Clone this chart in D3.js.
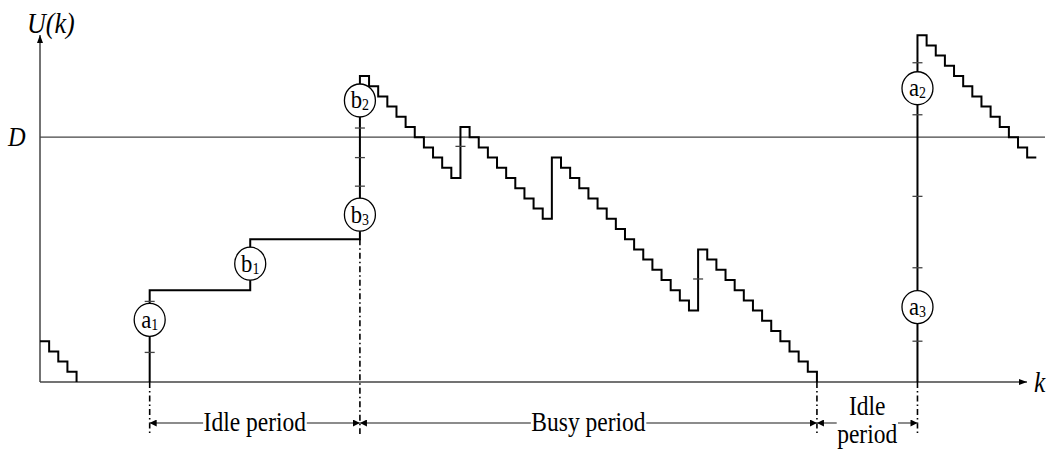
<!DOCTYPE html>
<html>
<head>
<meta charset="utf-8">
<script src="https://cdn.jsdelivr.net/npm/d3@7"></script>
<style>
body { margin: 0; background: #fff; }
</style>
</head>
<body>
<div id="chart"></div>
<script>
// U(k) on each slot [k, k+1), k = 0..108
var u_values = [
    4, 3, 2, 1,
    0, 0, 0, 0, 0, 0, 0, 0,
    9, 9, 9, 9, 9, 9, 9, 9, 9, 9, 9,
    14, 14, 14, 14, 14, 14, 14, 14, 14, 14, 14, 14,
    30, 29, 28, 27, 26, 25, 24, 23, 22, 21, 20,
    25, 24, 23, 22, 21, 20, 19, 18, 17, 16,
    22, 21, 20, 19, 18, 17, 16, 15, 14, 13, 12, 11, 10, 9, 8, 7,
    13, 12, 11, 10, 9, 8, 7, 6, 5, 4, 3, 2, 1,
    0, 0, 0, 0, 0, 0, 0, 0, 0, 0, 0,
    34, 33, 32, 31, 30, 29, 28, 27, 26, 25, 24, 23, 22
];

var d_value = 24;

// circled arrival labels
var circle_letters = ['a', 'b', 'b', 'b', 'a', 'a'];
var circle_subs = ['1', '1', '2', '3', '2', '3'];
var circle_k = [12, 23, 35, 35, 96, 96];
var circle_u = [6.1, 11.6, 27.6, 16.4, 28.8, 7.35];

// small tick marks on the jumps
var tick_k = [12, 12, 35, 35, 35, 46, 72, 96, 96, 96, 96, 96];
var tick_u = [2.9, 7.9, 24.9, 22, 19.2, 23.1, 10.1, 31.3, 26.2, 18.2, 11.2, 4];

// dash-dot guides
var guide_k = [12, 35, 85, 96];
var guide_top = [0, 14, 0, 0];

// periods
var period_labels = ['Idle period', 'Busy period', 'Idle\nperiod'];
var period_start = [12, 35, 85];
var period_end = [35, 85, 96];

var chart_width = 1053;
var chart_height = 451;
var serif = "'Liberation Serif', 'Times New Roman', Times, serif";

var svg = d3.select('#chart')
    .append('svg')
    .attr('width', chart_width)
    .attr('height', chart_height)
    .attr('font-family', serif)

var x_scale = d3.scaleLinear()
    .domain([0, 109])
    .range([40, 1036.3])

var y_scale = d3.scaleLinear()
    .domain([0, 34])
    .range([382, 35.2])

var sx = 0.87; // text is a bit narrow in the original

var defs = svg.append('defs');
defs.append('marker')
    .attr('id', 'head')
    .attr('viewBox', '0 0 8 6')
    .attr('refX', 8)
    .attr('refY', 3)
    .attr('markerWidth', 8)
    .attr('markerHeight', 6)
    .attr('markerUnits', 'userSpaceOnUse')
    .attr('orient', 'auto-start-reverse')
    .append('path')
    .attr('d', 'M0,0L8,3L0,6Z')
    .attr('fill', '#000')
defs.append('marker')
    .attr('id', 'dim')
    .attr('viewBox', '0 0 7 7')
    .attr('refX', 7)
    .attr('refY', 3.5)
    .attr('markerWidth', 7)
    .attr('markerHeight', 7)
    .attr('markerUnits', 'userSpaceOnUse')
    .attr('orient', 'auto-start-reverse')
    .append('path')
    .attr('d', 'M0,0L7,3.5L0,7Z')
    .attr('fill', '#000')

// axes
svg.append('line')
    .attr('x1', x_scale(0)).attr('y1', y_scale(0))
    .attr('x2', 1027).attr('y2', y_scale(0))
    .attr('stroke', '#444').attr('stroke-width', 1.5)
    .attr('marker-end', 'url(#head)')
svg.append('line')
    .attr('x1', x_scale(0)).attr('y1', y_scale(0))
    .attr('x2', x_scale(0)).attr('y2', 35)
    .attr('stroke', '#444').attr('stroke-width', 1.5)
    .attr('marker-end', 'url(#head)')

// D level
svg.append('line')
    .attr('x1', x_scale(0)).attr('x2', 1045)
    .attr('y1', y_scale(d_value)).attr('y2', y_scale(d_value))
    .attr('stroke', '#444').attr('stroke-width', 1.2)

// dash-dot guides
guide_k.forEach(function(k, i) {
    svg.append('line')
        .attr('x1', x_scale(k)).attr('x2', x_scale(k))
        .attr('y1', y_scale(guide_top[i])).attr('y2', 434)
        .attr('stroke', '#000').attr('stroke-width', 1.6)
        .attr('stroke-dasharray', '6,3,1.5,3')
})

// step function, split into runs where U > 0
var runs = [];
var cur = null;
u_values.forEach(function(u, k) {
    if (u > 0) {
        if (!cur) {
            cur = [];
            if (k > 0) cur.push([k, 0]);
        }
        cur.push([k, u]);
    } else if (cur) {
        cur.push([k, 0]);
        runs.push(cur);
        cur = null;
    }
})
if (cur) {
    cur.push([u_values.length, u_values[u_values.length - 1]]);
    runs.push(cur);
}

var step_line = d3.line()
    .x(function(d) { return x_scale(d[0]) })
    .y(function(d) { return y_scale(d[1]) })
    .curve(d3.curveStepAfter)

svg.selectAll('path.run')
    .data(runs)
    .enter()
    .append('path')
    .attr('class', 'run')
    .attr('d', step_line)
    .attr('fill', 'none')
    .attr('stroke', '#000')
    .attr('stroke-width', 2)

// ticks
svg.selectAll('line.tick')
    .data(tick_k)
    .enter()
    .append('line')
    .attr('class', 'tick')
    .attr('x1', function(d) { return x_scale(d) - 5 })
    .attr('x2', function(d) { return x_scale(d) + 5 })
    .attr('y1', function(d, i) { return y_scale(tick_u[i]) })
    .attr('y2', function(d, i) { return y_scale(tick_u[i]) })
    .attr('stroke', '#444')
    .attr('stroke-width', 1.3)

// circled labels
var circ = svg.selectAll('g.circ')
    .data(circle_k)
    .enter()
    .append('g')
    .attr('class', 'circ')
    .attr('transform', function(d, i) {
        return 'translate(' + x_scale(d) + ',' + y_scale(circle_u[i]) + ')'
    })
circ.append('ellipse')
    .attr('rx', 15.5)
    .attr('ry', 16.5)
    .attr('fill', '#fff')
    .attr('stroke', '#000')
    .attr('stroke-width', 1.3)
var ct = circ.append('text')
    .attr('transform', 'translate(0,8) scale(' + sx + ',1)')
    .attr('text-anchor', 'middle')
    .attr('font-family', serif)
    .attr('font-size', 26)
ct.append('tspan')
    .text(function(d, i) { return circle_letters[i] })
ct.append('tspan')
    .attr('dy', 2)
    .attr('font-size', 16)
    .text(function(d, i) { return circle_subs[i] })

// axis labels
svg.append('text')
    .attr('transform', 'translate(27,33) scale(' + sx + ',1)')
    .attr('font-family', serif)
    .attr('font-size', 30)
    .attr('font-style', 'italic')
    .text('U(k)')
svg.append('text')
    .attr('transform', 'translate(8,146) scale(' + sx + ',1)')
    .attr('font-family', serif)
    .attr('font-size', 28)
    .attr('font-style', 'italic')
    .text('D')
svg.append('text')
    .attr('transform', 'translate(1034,392) scale(' + sx + ',1)')
    .attr('font-family', serif)
    .attr('font-size', 29)
    .attr('font-style', 'italic')
    .text('k')

// period dimension arrows
var dim_y = 423;
period_labels.forEach(function(lab, i) {
    var x0 = x_scale(period_start[i]);
    var x1 = x_scale(period_end[i]);
    var cx = (x0 + x1) / 2;
    svg.append('line')
        .attr('x1', x0).attr('x2', x1)
        .attr('y1', dim_y).attr('y2', dim_y)
        .attr('stroke', '#666').attr('stroke-width', 1.5)
        .attr('marker-start', 'url(#dim)')
        .attr('marker-end', 'url(#dim)')
    var g = svg.append('g');
    var parts = lab.split('\n');
    var base = parts.length > 1 ? [415, 443] : [431];
    var bg = g.append('rect').attr('fill', '#fff');
    parts.forEach(function(p, j) {
        g.append('text')
            .attr('transform', 'translate(' + cx + ',' + base[j] + ') scale(' + sx + ',1)')
            .attr('text-anchor', 'middle')
            .attr('font-family', serif)
            .attr('font-size', 27)
            .text(p)
    })
    var bb = g.node().getBBox();
    bg.attr('x', bb.x - 0.5).attr('width', bb.width + 1)
        .attr('y', dim_y - 4).attr('height', 8)
})
</script>
</body>
</html>
